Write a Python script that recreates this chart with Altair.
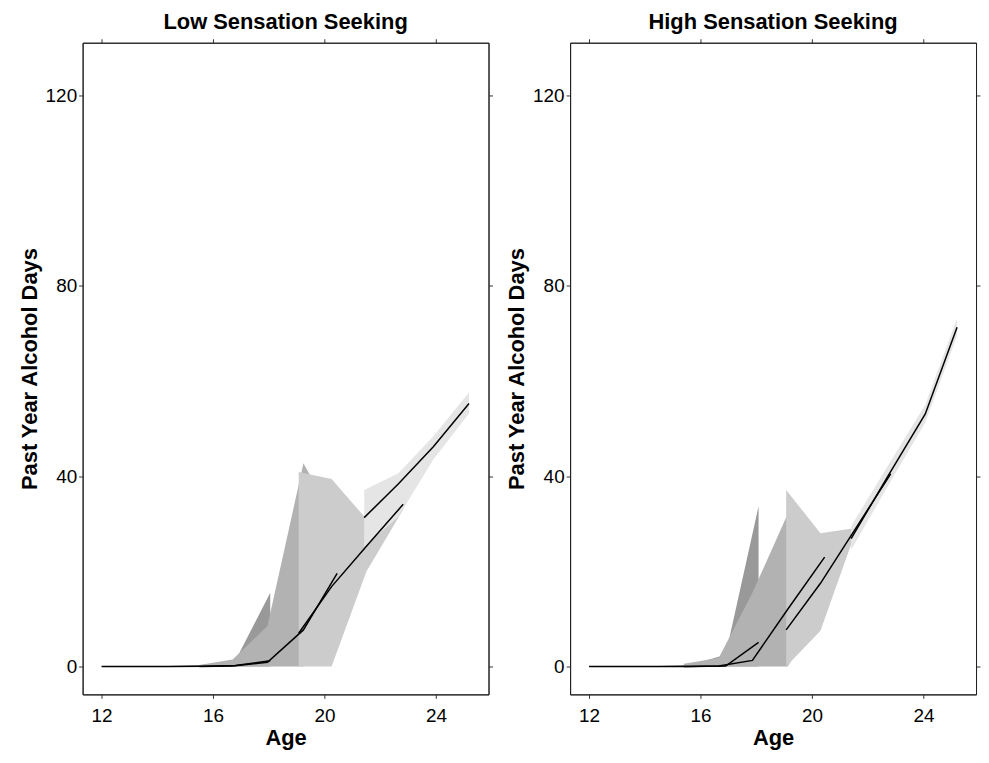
import altair as alt
import pandas as pd

# ---------------- data ----------------
AGE_TICKS = [12, 16, 20, 24]
VALUE_TICKS = [0, 40, 80, 120]
X_DOMAIN = [11.32, 25.88]
Y_DOMAIN = [-5.85, 131.1]
PANEL_TITLES = ["Low Sensation Seeking", "High Sensation Seeking"]
COHORT_FILLS = ["#999999", "#b2b2b2", "#cccccc", "#e5e5e5"]

# Low sensation seeking
LOW_C1_AGE = [12.0, 13.2, 14.4, 15.6, 16.8, 18.05]
LOW_C1_MEAN = [0.0, 0.0, 0.0, 0.05, 0.2, 1.2]
LOW_C1_LO = [0.0, 0.0, 0.0, 0.0, 0.0, 0.0]
LOW_C1_HI = [0.0, 0.05, 0.1, 0.3, 1.2, 15.5]

LOW_C2_AGE = [15.5, 16.7, 17.95, 19.24, 20.45]
LOW_C2_MEAN = [0.0, 0.1, 0.9, 7.7, 19.6]
LOW_C2_LO = [0.0, 0.0, 0.0, 0.0, 10.0]
LOW_C2_HI = [0.3, 1.5, 8.5, 42.7, 30.0]

LOW_C3_AGE = [19.07, 20.25, 21.5, 22.82]
LOW_C3_MEAN = [7.0, 16.8, 25.3, 34.1]
LOW_C3_LO = [0.0, 0.0, 20.0, 33.0]
LOW_C3_HI = [40.9, 39.4, 31.0, 35.3]

LOW_C4_AGE = [21.42, 22.65, 23.9, 25.18]
LOW_C4_MEAN = [31.3, 38.4, 46.2, 55.3]
LOW_C4_LO = [25.2, 31.5, 43.5, 53.2]
LOW_C4_HI = [37.1, 40.6, 48.4, 57.6]

# High sensation seeking
HIGH_C1_AGE = [12.0, 13.2, 14.45, 15.65, 16.9, 18.08]
HIGH_C1_MEAN = [0.0, 0.0, 0.0, 0.0, 0.1, 5.1]
HIGH_C1_LO = [0.0, 0.0, 0.0, 0.0, 0.0, 0.0]
HIGH_C1_HI = [0.0, 0.05, 0.1, 0.4, 2.5, 33.7]

HIGH_C2_AGE = [15.4, 16.65, 17.86, 19.12, 20.45]
HIGH_C2_MEAN = [0.0, 0.1, 1.3, 12.0, 23.0]
HIGH_C2_LO = [0.0, 0.0, 0.0, 0.0, 12.0]
HIGH_C2_HI = [0.6, 1.8, 15.5, 32.0, 27.0]

HIGH_C3_AGE = [19.07, 20.3, 21.45, 22.82]
HIGH_C3_MEAN = [7.7, 17.5, 28.0, 40.5]
HIGH_C3_LO = [0.0, 7.5, 26.5, 39.0]
HIGH_C3_HI = [37.1, 28.0, 29.0, 42.0]

HIGH_C4_AGE = [21.4, 22.72, 24.06, 25.2]
HIGH_C4_MEAN = [26.9, 40.0, 53.1, 71.3]
HIGH_C4_LO = [24.5, 38.0, 51.3, 69.5]
HIGH_C4_HI = [29.5, 42.2, 55.0, 73.2]

LOW = [
    (LOW_C1_AGE, LOW_C1_MEAN, LOW_C1_LO, LOW_C1_HI),
    (LOW_C2_AGE, LOW_C2_MEAN, LOW_C2_LO, LOW_C2_HI),
    (LOW_C3_AGE, LOW_C3_MEAN, LOW_C3_LO, LOW_C3_HI),
    (LOW_C4_AGE, LOW_C4_MEAN, LOW_C4_LO, LOW_C4_HI),
]
HIGH = [
    (HIGH_C1_AGE, HIGH_C1_MEAN, HIGH_C1_LO, HIGH_C1_HI),
    (HIGH_C2_AGE, HIGH_C2_MEAN, HIGH_C2_LO, HIGH_C2_HI),
    (HIGH_C3_AGE, HIGH_C3_MEAN, HIGH_C3_LO, HIGH_C3_HI),
    (HIGH_C4_AGE, HIGH_C4_MEAN, HIGH_C4_LO, HIGH_C4_HI),
]

FONT = "Liberation Sans"
PANEL_W = 408
PANEL_H = 655


def panel(cohorts, title):
    xs = alt.Scale(domain=X_DOMAIN, nice=False, zero=False)
    ys = alt.Scale(domain=Y_DOMAIN, nice=False, zero=False)
    x_axis = alt.Axis(values=AGE_TICKS, title="Age", grid=False, format="d",
                      labelPadding=8, titlePadding=2)
    y_axis = alt.Axis(values=VALUE_TICKS, title="Past Year Alcohol Days", grid=False, format="d",
                      labelPadding=2, titlePadding=4)

    layers = []
    frames = []
    for i, ((ages, mean, lo, hi), fill) in enumerate(zip(cohorts, COHORT_FILLS)):
        df = pd.DataFrame({"age": ages, "mean": mean, "lo": lo, "hi": hi, "cohort": f"C{i + 1}"})
        frames.append(df)
        layers.append(
            alt.Chart(df)
            .mark_area(color=fill, opacity=1, interpolate="linear")
            .encode(
                x=alt.X("age:Q", scale=xs, axis=x_axis),
                y=alt.Y("lo:Q", scale=ys, axis=y_axis),
                y2="hi:Q",
            )
        )
    all_df = pd.concat(frames, ignore_index=True)
    layers.append(
        alt.Chart(all_df)
        .mark_line(color="black", strokeWidth=1.5)
        .encode(
            x=alt.X("age:Q", scale=xs, axis=x_axis),
            y=alt.Y("mean:Q", scale=ys, axis=y_axis),
            detail="cohort:N",
        )
    )
    main = alt.layer(*layers)

    mirror = (
        alt.Chart(all_df)
        .mark_point(opacity=0)
        .encode(
            x=alt.X(
                "age:Q",
                scale=xs,
                axis=alt.Axis(orient="top", values=AGE_TICKS, labels=False, title=None, grid=False),
            ),
            y=alt.Y(
                "mean:Q",
                scale=ys,
                axis=alt.Axis(orient="right", values=VALUE_TICKS, labels=False, title=None, grid=False),
            ),
        )
    )
    return (
        alt.layer(main, mirror)
        .resolve_scale(x="independent", y="independent")
        .properties(width=PANEL_W, height=PANEL_H, title=title)
    )


chart = (
    alt.hconcat(panel(LOW, PANEL_TITLES[0]), panel(HIGH, PANEL_TITLES[1]), spacing=11)
    .properties(background="white", padding={"left": 9, "top": 1, "right": 0, "bottom": 2})
    .configure_view(stroke="#222222", strokeWidth=1)
    .configure_axis(
        labelFont=FONT,
        titleFont=FONT,
        labelFontSize=19,
        labelColor="#000000",
        titleFontSize=22,
        titleFontWeight="bold",
        titleColor="#000000",
        tickColor="#333333",
        tickSize=4,
        domainColor="#222222",
    )
    .configure_title(
        font=FONT,
        fontSize=22,
        fontWeight="bold",
        color="#000000",
        anchor="middle",
        offset=4,
    )
)

chart.save("out.html", embed_options={"renderer": "svg", "actions": False})
